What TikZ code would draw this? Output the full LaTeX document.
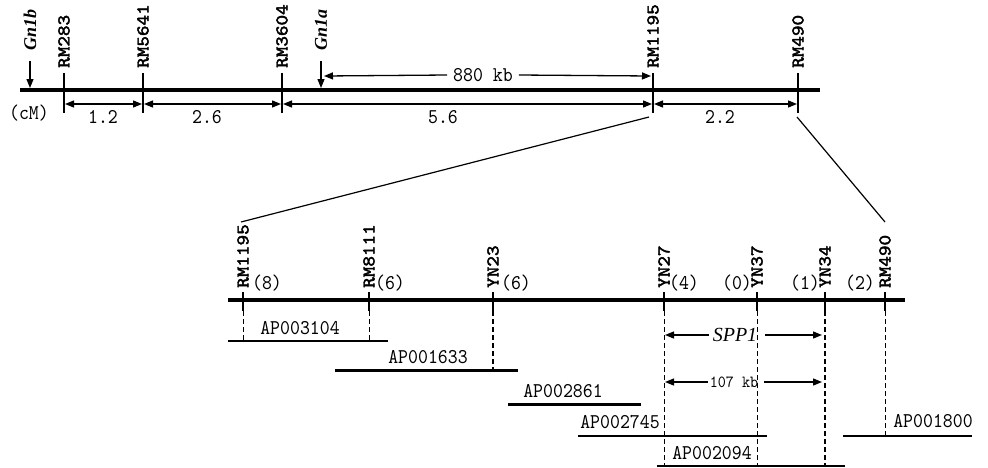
\documentclass[tikz,border=0pt]{standalone}
\usepackage{fontspec}
\usetikzlibrary{arrows.meta}
\newfontfamily\monofnt{lmmono10-regular}[Extension=.otf,FakeStretch=0.9]
\newfontfamily\mkfnt{lmmono10-regular}[Extension=.otf,FakeStretch=1.12,FakeBold=2.5]
\newfontfamily\serfnt{Liberation Serif}
\begin{document}
\begin{tikzpicture}[x=1pt,y=-1pt,
  chrom/.style={line width=4pt},
  tickln/.style={line width=2pt},
  tip/.style={-{Triangle[length=9pt,width=7pt]}},
  dimarr/.style={line width=1.3pt,{Triangle[length=9pt,width=7pt]}-{Triangle[length=9pt,width=7pt]},shorten <=1pt,shorten >=1pt},
  mk/.style={rotate=90,anchor=west,inner sep=0pt,font=\mkfnt\fontsize{18}{18}\selectfont},
  gn/.style={rotate=90,anchor=west,inner sep=0pt,font=\serfnt\bfseries\itshape\fontsize{18}{18}\selectfont},
  lbl/.style={inner sep=0pt,font=\monofnt\fontsize{21}{21}\selectfont},
  smlbl/.style={inner sep=0pt,font=\monofnt\fontsize{17}{17}\selectfont},
  dsh/.style={dash pattern=on 5pt off 3pt,line width=0.8pt},
  dshk/.style={dash pattern=on 5pt off 3pt,line width=1.6pt},
  zoomln/.style={line width=1.2pt}]
\useasboundingbox (0,0) rectangle (988,467);

% ---------- top map ----------
\coordinate (cl) at (20,90); \coordinate (cr) at (820,90);
\draw[chrom] (cl) -- (cr);
\foreach \x/\n/\t in {64/a/RM283,143/b/RM5641,282/c/RM3604,653/d/RM1195,798/e/RM490}{
  \coordinate (T\n) at (\x,73);
  \coordinate (B\n) at (\x,113);
  \coordinate (D\n) at (\x,104);
  \draw[tickln] (T\n) -- (B\n);
  \node[mk] (L\n) at (\x,68) {\t};
}
\draw[dimarr] (Da) -- (Db);
\draw[dimarr] (Db) -- (Dc);
\draw[dimarr] (Dc) -- (Dd);
\draw[dimarr] (Dd) -- (De);
\node[lbl] (n12) at (103,117) {1.2};
\node[lbl] (n26) at (207,117) {2.6};
\node[lbl] (n56) at (443,117) {5.6};
\node[lbl] (n22) at (720,117) {2.2};
\node[lbl] (cm) at (29,113) {(cM)};

% Gn1b / Gn1a
\coordinate (gb1) at (30,61); \coordinate (gb2) at (30,88);
\draw[line width=1.2pt,tip] (gb1) -- (gb2);
\node[gn] (gnb) at (30,51) {Gn1b};
\coordinate (ga1) at (321,61); \coordinate (ga2) at (321,88);
\draw[line width=1.2pt,tip] (ga1) -- (ga2);
\node[gn] (gna) at (321,51) {Gn1a};

% 880 kb
\coordinate (k1) at (324,76); \coordinate (k2) at (651,76);
\node[lbl] (k880) at (483,75) {880 kb};
\draw[line width=1.3pt,tip] ([xshift=-6pt]k880.west) -- (k1);
\draw[line width=1.3pt,tip] ([xshift=6pt]k880.east) -- (k2);

% zoom lines
\coordinate (z1) at (649,117); \coordinate (z2) at (241,222);
\coordinate (z3) at (797,117); \coordinate (z4) at (885,222);
\draw[zoomln] (z1) -- (z2);
\draw[zoomln] (z3) -- (z4);

% ---------- bottom map ----------
\coordinate (bl) at (228,300); \coordinate (br) at (905,300);
\draw[chrom] (bl) -- (br);
\foreach \x/\n/\t/\c/\cx/\e/\s in {243/p/RM1195/(8)/267/341/dsh,369/q/RM8111/(6)/390/341/dsh,493/r/YN23/(6)/516/370/dshk,664/s/YN27/(4)/684/467/dsh,757/t/YN37/(0)/737/467/dsh,825/u/YN34/(1)/805/467/dshk,885/v/RM490/(2)/860/436/dsh}{
  \coordinate (U\n) at (\x,292);
  \coordinate (V\n) at (\x,311);
  \coordinate (E\n) at (\x,\e);
  \draw[tickln] (U\n) -- (V\n);
  \draw[\s] (V\n) -- (E\n);
  \node[mk] (M\n) at (\x,288) {\t};
  \node[lbl] (C\n) at (\cx,283) {\c};
}

% clones
\foreach \xa/\xb/\y/\lx/\ly/\t/\w in {228/388/341/300/328/AP003104/2pt,335/518/370/428/357/AP001633/3pt,508/641/404/563/391/AP002861/3pt,578/767/436/620/422/AP002745/2pt,657/845/466/712/453/AP002094/1.6pt,843/972/436/933/421/AP001800/2pt}{
  \coordinate (A\t) at (\xa,\y);
  \coordinate (Z\t) at (\xb,\y);
  \draw[line width=\w] (A\t) -- (Z\t);
  \node[lbl] (N\t) at (\lx,\ly) {\t};
}

% SPP1 and 107 kb
\coordinate (sa) at (665,335); \coordinate (sb) at (822,335);
\node[inner sep=0pt,font=\serfnt\itshape\fontsize{20}{20}\selectfont] (spp) at (735,335) {SPP1};
\draw[line width=1.3pt,tip] ([xshift=-4pt]spp.west) -- (sa);
\draw[line width=1.3pt,tip] ([xshift=8pt]spp.east) -- (sb);
\coordinate (ka) at (665,382); \coordinate (kb) at (822,382);
\node[smlbl] (k107) at (734,382) {107 kb};
\draw[line width=1.3pt,tip] ([xshift=-2pt]k107.west) -- (ka);
\draw[line width=1.3pt,tip] ([xshift=6pt]k107.east) -- (kb);
\end{tikzpicture}
\end{document}
